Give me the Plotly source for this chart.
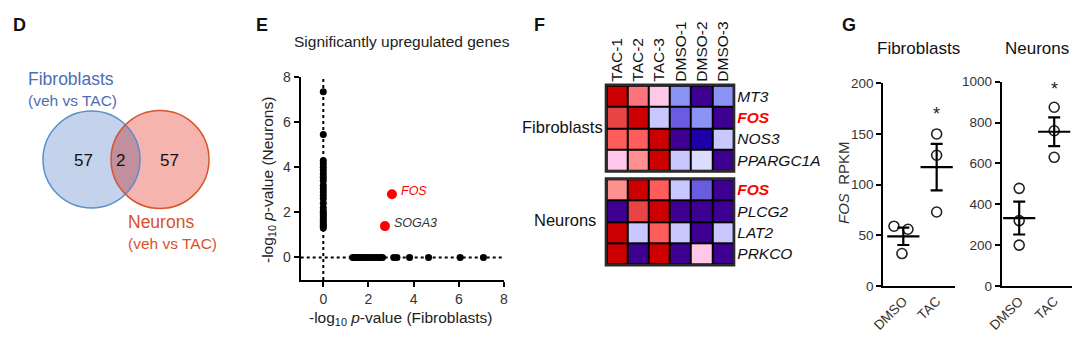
import numpy as np
import plotly.graph_objects as go

W, H = 1080, 338
FONT = "Liberation Sans, Arial, Helvetica, sans-serif"


def dom_x(a, b):
    return [a / W, b / W]


def dom_y(top, bottom):
    return [1 - bottom / H, 1 - top / H]


# ---------------- data ----------------
# D: Venn counts (fibroblast only, shared, neuron only)
venn_counts = [57, 2, 57]
venn_sets = ["Fibroblasts", "Neurons"]
venn_sub = "(veh vs TAC)"

# E: -log10 p-values
neuron_only_y = [7.35, 5.45, 4.3, 4.15, 4.0, 3.85, 3.7, 3.55, 3.4, 3.2, 3.05, 2.9,
                 2.75, 2.6, 2.4, 2.2, 2.05, 1.95, 1.85, 1.75, 1.65, 1.55, 1.45, 1.38, 1.3]
fibro_only_x = [1.3, 1.38, 1.45, 1.52, 1.6, 1.68, 1.75, 1.85, 1.95, 2.05, 2.15, 2.25,
                2.35, 2.45, 2.55, 2.62, 3.12, 3.26, 3.82, 4.66, 6.06, 7.09]
shared_genes = ["FOS", "SOGA3"]
shared_x = [3.04, 2.73]
shared_y = [2.8, 1.39]
e_ticks = [0, 2, 4, 6, 8]

# F: heatmap z-scores
heat_cols = ["TAC-1", "TAC-2", "TAC-3", "DMSO-1", "DMSO-2", "DMSO-3"]
fib_genes = ["MT3", "FOS", "NOS3", "PPARGC1A"]
fib_z = [
    [2.0, 1.1, 0.4, -1.1, -2.0, -1.1],
    [1.7, 2.0, -0.7, -1.5, -1.1, -2.0],
    [1.4, 1.4, 2.0, -2.0, -1.8, -0.7],
    [0.4, 0.8, 2.0, -0.7, -0.4, -2.0],
]
neu_genes = ["FOS", "PLCG2", "LAT2", "PRKCO"]
neu_z = [
    [0.8, 2.0, 1.4, -0.7, -1.5, -2.0],
    [-2.0, 1.7, 2.0, -2.0, -2.0, -2.0],
    [2.0, -0.7, 1.4, -0.7, -2.0, -0.7],
    [2.0, -2.0, 2.0, -2.0, 0.4, -2.0],
]
heat_levels = [-2.0, -1.8, -1.5, -1.1, -0.7, -0.4, 0.4, 0.8, 1.1, 1.4, 1.7, 2.0]
heat_colors = ["#3d0090", "#1e00a8", "#6a5ce0", "#8a92f5", "#c8c8ff", "#dcdcff",
               "#ffc8e8", "#ff9090", "#ff737c", "#ff5c5c", "#e84444", "#cc0000"]

# G: FOS RPKM
groups = ["DMSO", "TAC"]
fib_dmso = [59, 56, 32]
fib_tac = [150, 129, 73]
neu_dmso = [478, 320, 200]
neu_tac = [875, 760, 630]
fib_dmso_jit = [-0.28, 0.14, -0.04]

fig = go.Figure()

# ---------------- E scatter ----------------
fig.add_trace(go.Scatter(x=[0] * len(neuron_only_y), y=neuron_only_y, mode="markers",
                         marker=dict(color="black", size=7), xaxis="x", yaxis="y",
                         showlegend=False, hoverinfo="skip"))
fig.add_trace(go.Scatter(x=fibro_only_x, y=[0] * len(fibro_only_x), mode="markers",
                         marker=dict(color="black", size=7), xaxis="x", yaxis="y",
                         showlegend=False, hoverinfo="skip"))
fig.add_trace(go.Scatter(x=shared_x, y=shared_y, mode="markers",
                         marker=dict(color="#ff0000", size=10), xaxis="x", yaxis="y",
                         showlegend=False, hoverinfo="skip"))
label_cols = ["#ff0000", "#333333"]
for g, gx, gy, c in zip(shared_genes, shared_x, shared_y, label_cols):
    fig.add_annotation(x=gx, y=gy, xref="x", yref="y", text="<i>%s</i>" % g,
                       showarrow=False, xanchor="left", xshift=7, yshift=3,
                       font=dict(size=12.5, color=c, family=FONT))

# ---------------- F heatmaps ----------------
cs = [[(v - heat_levels[0]) / (heat_levels[-1] - heat_levels[0]), c]
      for v, c in zip(heat_levels, heat_colors)]
fig.add_trace(go.Heatmap(z=fib_z, x=heat_cols, y=fib_genes, colorscale=cs, zmin=-2, zmax=2,
                         showscale=False, xgap=2, ygap=2, xaxis="x2", yaxis="y2",
                         hoverinfo="skip"))
fig.add_trace(go.Heatmap(z=neu_z, x=heat_cols, y=neu_genes, colorscale=cs, zmin=-2, zmax=2,
                         showscale=False, xgap=2, ygap=2, xaxis="x3", yaxis="y3",
                         hoverinfo="skip"))


def style_gene(g):
    if g == "FOS":
        return "<b><i><span style='color:#ff0000'>FOS</span></i></b>"
    return "<i>%s</i>" % g


# ---------------- G dot plots ----------------
def sem(v):
    return float(np.std(v, ddof=1) / np.sqrt(len(v)))


for (dm, tc, jit, xa, ya) in [(fib_dmso, fib_tac, fib_dmso_jit, "x4", "y4"),
                               (neu_dmso, neu_tac, [0, 0, 0], "x5", "y5")]:
    xs = [0 + j for j in jit] + [1, 1, 1]
    ys = dm + tc
    fig.add_trace(go.Scatter(x=xs, y=ys, mode="markers", xaxis=xa, yaxis=ya,
                             marker=dict(symbol="circle-open", size=10, color="#222222",
                                         line=dict(width=1.6, color="#222222")),
                             showlegend=False, hoverinfo="skip"))
    fig.add_trace(go.Scatter(x=[0, 1], y=[np.mean(dm), np.mean(tc)], mode="markers",
                             xaxis=xa, yaxis=ya,
                             marker=dict(symbol="line-ew", size=23, color="black",
                                         line=dict(width=2.2, color="black")),
                             error_y=dict(type="data", array=[sem(dm), sem(tc)], width=6,
                                          thickness=2.2, color="black"),
                             showlegend=False, hoverinfo="skip"))

fig.add_annotation(x=1, y=max(fib_tac) + 20, xref="x4", yref="y4", text="*", showarrow=False,
                   font=dict(size=18, color="#222", family=FONT))
fig.add_annotation(x=1, y=max(neu_tac) + 90, xref="x5", yref="y5", text="*", showarrow=False,
                   font=dict(size=18, color="#222", family=FONT))

# ---------------- D Venn (axis in pixel units) ----------------
c1 = (91.5, 159.5, 48.5)
c2 = (160.0, 159.5, 49.0)
blue_fill, blue_line = "#c5d2ec", "#5a8fcb"
red_fill, red_line = "#f5b4ae", "#d9542f"
lens_fill = "#c1909e"

shapes = []
for (cx, cy, r), fc in [(c1, blue_fill), (c2, red_fill)]:
    shapes.append(dict(type="circle", xref="x6", yref="y6", x0=cx - r, x1=cx + r,
                       y0=cy - r, y1=cy + r, fillcolor=fc, line=dict(width=0), layer="above"))
d = c2[0] - c1[0]
a = (d ** 2 + c1[2] ** 2 - c2[2] ** 2) / (2 * d)
h = np.sqrt(c1[2] ** 2 - a ** 2)
t1 = np.arctan2(h, a)
t2 = np.arctan2(h, d - a)
ang1 = np.linspace(-t1, t1, 40)
ang2 = np.linspace(np.pi - t2, np.pi + t2, 40)
pts = [(c1[0] + c1[2] * np.cos(t), c1[1] + c1[2] * np.sin(t)) for t in ang1]
pts += [(c2[0] + c2[2] * np.cos(t), c2[1] + c2[2] * np.sin(t)) for t in ang2]
path = "M " + " L ".join("%.2f,%.2f" % p for p in pts) + " Z"
shapes.append(dict(type="path", xref="x6", yref="y6", path=path, fillcolor=lens_fill,
                   line=dict(width=0), layer="above"))
for (cx, cy, r), lc in [(c1, blue_line), (c2, red_line)]:
    shapes.append(dict(type="circle", xref="x6", yref="y6", x0=cx - r, x1=cx + r,
                       y0=cy - r, y1=cy + r, line=dict(width=1.5, color=lc), layer="above"))

venn_pos = [c1[0] - 8.5, (c1[0] + a + c2[0] - c2[2]) / 2 + 2, c2[0] + 9]
for cnt, vx in zip(venn_counts, venn_pos):
    fig.add_annotation(x=vx, y=160, xref="x6", yref="y6", text=str(cnt), showarrow=False,
                       font=dict(size=17, color="#111", family=FONT))

blue_txt, red_txt = "#4e6db3", "#d9512c"
fig.add_annotation(x=26, y=79, xref="x6", yref="y6", text=venn_sets[0], showarrow=False,
                   xanchor="left", font=dict(size=17.5, color=blue_txt, family=FONT))
fig.add_annotation(x=26, y=100, xref="x6", yref="y6", text=venn_sub, showarrow=False,
                   xanchor="left", font=dict(size=15.5, color=blue_txt, family=FONT))
fig.add_annotation(x=126, y=222, xref="x6", yref="y6", text=venn_sets[1], showarrow=False,
                   xanchor="left", font=dict(size=17.5, color=red_txt, family=FONT))
fig.add_annotation(x=126, y=243, xref="x6", yref="y6", text=venn_sub, showarrow=False,
                   xanchor="left", font=dict(size=15.5, color=red_txt, family=FONT))

# E dotted zero lines
shapes.append(dict(type="line", xref="x", yref="y", x0=0, x1=0, y0=-1, y1=8,
                   line=dict(color="black", width=2, dash="dot"), layer="below"))
shapes.append(dict(type="line", xref="x", yref="y", x0=-1, x1=8, y0=0, y1=0,
                   line=dict(color="black", width=2, dash="dot"), layer="below"))

# F heatmap backgrounds / borders
for xa, ya in [("x2", "y2"), ("x3", "y3")]:
    shapes.append(dict(type="rect", xref=xa + " domain", yref=ya + " domain", x0=0, x1=1,
                       y0=0, y1=1, fillcolor="black", line=dict(width=0), layer="below"))
    shapes.append(dict(type="rect", xref=xa + " domain", yref=ya + " domain", x0=-0.006,
                       x1=1.006, y0=-0.01, y1=1.01, line=dict(width=2.5, color="#2a2a2a"),
                       layer="above"))

fig.update_layout(shapes=shapes)


# ---------------- text annotations ----------------
def ann(x, y, text, size, color="#111", bold=False, xanchor="center", angle=0):
    if bold:
        text = "<b>%s</b>" % text
    fig.add_annotation(x=x / W, y=1 - y / H, xref="paper", yref="paper", text=text,
                       showarrow=False, xanchor=xanchor, yanchor="middle", textangle=angle,
                       font=dict(size=size, color=color, family=FONT))


ann(11, 25, "D", 18, bold=True, xanchor="left")
ann(254, 25, "E", 18, bold=True, xanchor="left")
ann(532, 25, "F", 18, bold=True, xanchor="left")
ann(840, 25, "G", 18, bold=True, xanchor="left")

ann(402, 42, "Significantly upregulated genes", 15.5, color="#222")
ann(401, 318, "-log<sub>10</sub> <i>p</i>-value (Fibroblasts)", 15.5, color="#222")
ann(268, 180, "-log<sub>10</sub> <i>p</i>-value (Neurons)", 15.5, color="#222", angle=-90)

ann(562, 127, "Fibroblasts", 16.5, color="#111")
ann(565, 220, "Neurons", 16.5, color="#111")

ann(918, 49, "Fibroblasts", 17, color="#111")
ann(1037, 49, "Neurons", 17, color="#111")
ann(843, 183, "<i>FOS</i>  RPKM", 15, color="#333", angle=-90)

# ---------------- axes ----------------
line_ax = dict(showline=True, linewidth=2, linecolor="black", ticks="outside", ticklen=5,
               tickwidth=2, tickcolor="black", showgrid=False, zeroline=False,
               automargin=False, fixedrange=True)
plain_ax = dict(showgrid=False, zeroline=False, ticks="", showline=False, automargin=False,
                fixedrange=True)

fig.update_layout(
    template="none",
    width=W, height=H, margin=dict(l=0, r=0, t=0, b=0, pad=0), autosize=False,
    paper_bgcolor="white", plot_bgcolor="white",
    font=dict(family=FONT),
    showlegend=False,
    xaxis=dict(domain=dom_x(300.7, 504), anchor="y", range=[-1, 8], tickvals=e_ticks,
               tickfont=dict(size=14, color="#333", family=FONT), **line_ax),
    yaxis=dict(domain=dom_y(77, 280), anchor="x", range=[-1, 8], tickvals=e_ticks,
               tickfont=dict(size=14, color="#333", family=FONT), **line_ax),
    xaxis2=dict(domain=dom_x(606.7, 733.3), anchor="y2", side="top", tickangle=-90,
                ticklabelstandoff=3, tickfont=dict(size=15.5, color="#111", family=FONT),
                **plain_ax),
    yaxis2=dict(domain=dom_y(85.7, 170.7), anchor="x2", side="right", autorange="reversed",
                tickvals=fib_genes, ticktext=[style_gene(g) for g in fib_genes],
                ticklabelstandoff=3, tickfont=dict(size=15.5, color="#111", family=FONT),
                **plain_ax),
    xaxis3=dict(domain=dom_x(606.7, 733.3), anchor="y3", showticklabels=False, **plain_ax),
    yaxis3=dict(domain=dom_y(179.3, 264.3), anchor="x3", side="right", autorange="reversed",
                tickvals=neu_genes, ticktext=[style_gene(g) for g in neu_genes],
                ticklabelstandoff=3, tickfont=dict(size=15.5, color="#111", family=FONT),
                **plain_ax),
    xaxis4=dict(domain=dom_x(883.3, 955), anchor="y4", range=[-0.6, 1.55], tickvals=[0, 1],
                ticktext=groups, tickangle=-45, showline=True, linewidth=2, linecolor="black",
                ticks="", showgrid=False, zeroline=False, automargin=False,
                tickfont=dict(size=13.5, color="#333", family=FONT)),
    yaxis4=dict(domain=dom_y(83.3, 286), anchor="x4", range=[0, 200], dtick=50,
                tickfont=dict(size=13.5, color="#333", family=FONT), **line_ax),
    xaxis5=dict(domain=dom_x(1001.7, 1071.7), anchor="y5", range=[-0.5, 1.5], tickvals=[0, 1],
                ticktext=groups, tickangle=-45, showline=True, linewidth=2, linecolor="black",
                ticks="", showgrid=False, zeroline=False, automargin=False,
                tickfont=dict(size=13.5, color="#333", family=FONT)),
    yaxis5=dict(domain=dom_y(81.7, 286), anchor="x5", range=[0, 1000], dtick=200,
                tickfont=dict(size=13.5, color="#333", family=FONT), **line_ax),
    xaxis6=dict(domain=dom_x(0, 250), anchor="y6", range=[0, 250], visible=False,
                automargin=False),
    yaxis6=dict(domain=[0, 1], anchor="x6", range=[338, 0], visible=False, automargin=False),
)

fig.write_html("out.html")
